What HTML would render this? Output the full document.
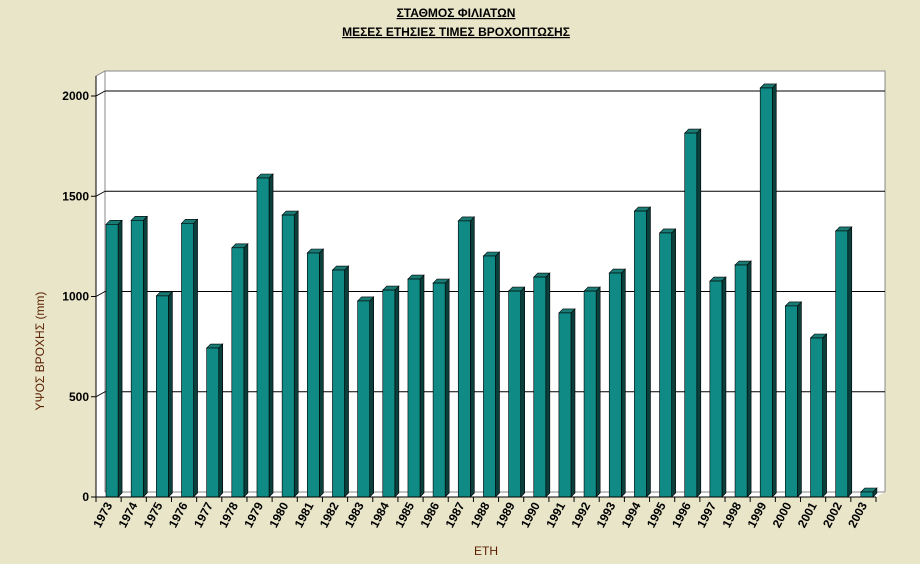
<!DOCTYPE html>
<html><head><meta charset="utf-8"><style>
html,body{margin:0;padding:0;background:#E8E5C8;}
svg{display:block;font-family:"Liberation Sans",sans-serif;}
</style></head><body>
<svg id="c" width="920" height="564" viewBox="0 0 920 564">
<rect x="0" y="0" width="920" height="564" fill="#E8E5C8"/>
<text x="456" y="17" text-anchor="middle" font-size="12" font-weight="bold" text-decoration="underline">ΣΤΑΘΜΟΣ ΦΙΛΙΑΤΩΝ</text>
<text x="456" y="36" text-anchor="middle" font-size="12" font-weight="bold" text-decoration="underline">ΜΕΣΕΣ ΕΤΗΣΙΕΣ ΤΙΜΕΣ ΒΡΟΧΟΠΤΩΣΗΣ</text>
<polygon points="105,71 885,71 885,492 876,497 96,497 96,76" fill="#fff"/>
<polyline points="96,497 96,76 105,71 885,71 885,492" fill="none" stroke="#888" stroke-width="1"/>
<line x1="105" y1="71" x2="105" y2="492" stroke="#888"/>
<line x1="105" y1="492" x2="885" y2="492" stroke="#888"/>
<g id="grid"></g>
<g id="bars"></g>
<g id="axes"></g>
<text transform="translate(44,351) rotate(-90)" font-size="12" fill="#5a1e00" text-anchor="middle">ΥΨΟΣ ΒΡΟΧΗΣ (mm)</text>
<text x="486" y="555" font-size="12" fill="#5a1e00" text-anchor="middle">ΕΤΗ</text>
</svg>
<script>
const categories=["1973","1974","1975","1976","1977","1978","1979","1980","1981","1982","1983","1984","1985","1986","1987","1988","1989","1990","1991","1992","1993","1994","1995","1996","1997","1998","1999","2000","2001","2002","2003"];
const values=[1360,1380,1003,1365,743,1243,1591,1406,1217,1132,978,1032,1087,1067,1377,1202,1027,1097,918,1027,1117,1426,1317,1815,1077,1157,2040,953,793,1327,25];
const yTicks=[0,500,1000,1500,2000];
const NS="http://www.w3.org/2000/svg";
const x0=96,x1=876,y0=497,yScale=401/2000,dx=9,dy=5;
const band=(x1-x0)/categories.length;
function yPos(v){return y0-v*yScale;}
function xPos(i){return x0+i*band;}
function mk(tag,attrs,parent){const e=document.createElementNS(NS,tag);for(const k in attrs)e.setAttribute(k,attrs[k]);parent.appendChild(e);return e;}
const grid=document.getElementById('grid'),bars=document.getElementById('bars'),axes=document.getElementById('axes');
yTicks.forEach(t=>{
  const y=yPos(t);
  if(t>0){
    const g=mk('line',{x1:x0+dx,y1:y-dy,x2:x1+dx,y2:y-dy,stroke:'#000','stroke-width':1},grid);
    
    
    mk('line',{x1:x0,y1:y,x2:x0+dx,y2:y-dy,stroke:'#000'},grid);
  }
  mk('line',{x1:x0-5,y1:y,x2:x0,y2:y,stroke:'#000'},axes);
  const l=mk('text',{x:x0-7,y:y+4,'text-anchor':'end','font-size':12,'font-weight':'bold'},axes);
  l.textContent=t;
  
  
});
mk('line',{x1:x0,y1:76,x2:x0,y2:y0,stroke:'#000'},axes);
mk('line',{x1:x0,y1:y0,x2:x1,y2:y0,stroke:'#000'},axes);
categories.forEach((c,i)=>{
  const bx=xPos(i)+10,bw=band*0.48,v=values[i],top=yPos(v);
  const g=mk('g',{},bars);
  
  
  mk('polygon',{points:`${bx+bw},${top} ${bx+bw+4},${top-4} ${bx+bw+4},${y0-4} ${bx+bw},${y0}`,fill:'#0b3f3c',stroke:'#000','stroke-width':0.6},g);
  mk('polygon',{points:`${bx},${top} ${bx+4},${top-4} ${bx+bw+4},${top-4} ${bx+bw},${top}`,fill:'#1a7a74',stroke:'#000','stroke-width':0.6},g);
  mk('rect',{x:bx,y:top,width:bw,height:y0-top,fill:'#0f8a84',stroke:'#000','stroke-width':0.6},g);
  mk('line',{x1:xPos(i),y1:y0,x2:xPos(i),y2:y0+5,stroke:'#000'},axes);
  const cx=xPos(i)+band/2+4;
  const t=mk('text',{x:0,y:0,transform:`translate(${cx},${y0+8}) rotate(-62)`,'text-anchor':'end','font-size':12,'font-weight':'bold'},axes);
  t.textContent=c;
  
  
});
mk('line',{x1:x1,y1:y0,x2:x1,y2:y0+5,stroke:'#000'},axes);
</script>
</body></html>
